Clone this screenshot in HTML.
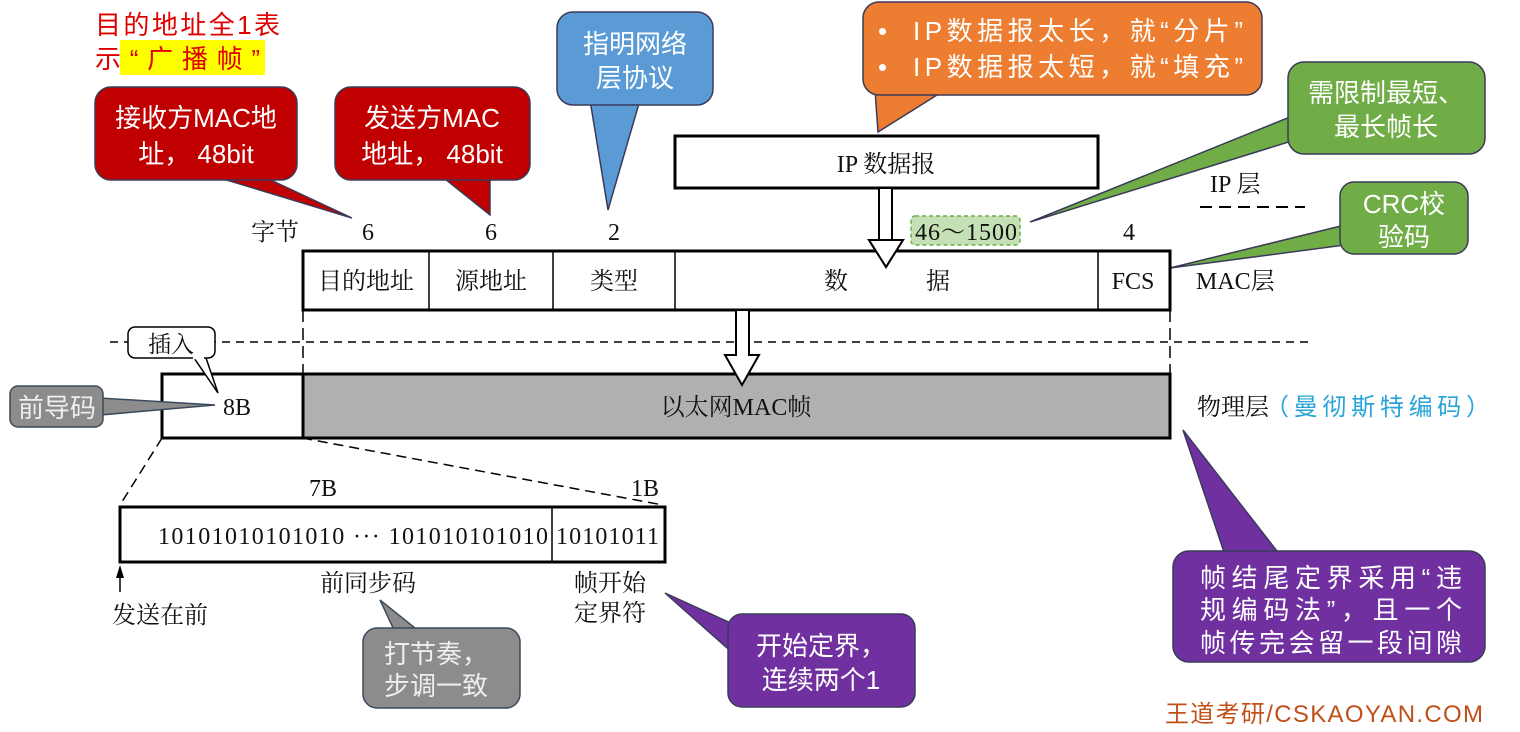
<!DOCTYPE html>
<html><head><meta charset="utf-8"><style>
html,body{margin:0;padding:0;background:#fff;width:1520px;height:732px;overflow:hidden}
svg{display:block}
text{font-family:"Liberation Sans","Noto Sans CJK SC",sans-serif}
.s{font-family:"Liberation Serif","Noto Serif CJK SC",serif;fill:#111}
.w{fill:#fff;font-size:26px}
</style></head><body>
<svg width="1520" height="732" viewBox="0 0 1520 732" xmlns="http://www.w3.org/2000/svg">
<rect x="120" y="40" width="145" height="35" fill="#ffff00"/>
<text x="95" y="34" font-size="26" fill="#e00000" textLength="185">目的地址全1表</text>
<text x="95" y="68" font-size="26" fill="#e00000" textLength="165">示“广播帧”</text>

<polygon points="210,175 260,175 352,218" fill="#c00000" stroke="#3a3a5a" stroke-width="1.5"/>
<rect x="95" y="87" width="202" height="93" rx="16" fill="#c00000" stroke="#3a3a5a" stroke-width="1.5"/>
<text class="w" x="196" y="127" text-anchor="middle">接收方MAC地</text>
<text class="w" x="196" y="163" text-anchor="middle">址， 48bit</text>
<polygon points="440,175 490,175 490,215" fill="#c00000" stroke="#3a3a5a" stroke-width="1.5"/>
<rect x="335" y="87" width="195" height="93" rx="16" fill="#c00000" stroke="#3a3a5a" stroke-width="1.5"/>
<text class="w" x="432" y="127" text-anchor="middle">发送方MAC</text>
<text class="w" x="432" y="163" text-anchor="middle">地址， 48bit</text>
<polygon points="590,100 640,100 608,210" fill="#5b9bd5" stroke="#3a3a5a" stroke-width="1.5"/>
<rect x="557" y="12" width="156" height="93" rx="16" fill="#5b9bd5" stroke="#3a3a5a" stroke-width="1.5"/>
<text class="w" x="635" y="53" text-anchor="middle">指明网络</text>
<text class="w" x="635" y="87" text-anchor="middle">层协议</text>
<polygon points="875,90 945,90 878,132" fill="#ed7d31" stroke="#3a3a5a" stroke-width="1.5"/>
<rect x="863" y="2" width="399" height="93" rx="16" fill="#ed7d31" stroke="#3a3a5a" stroke-width="1.5"/>
<text class="w" x="878" y="40">•</text>
<text class="w" x="913" y="40" textLength="330">IP数据报太长，就“分片”</text>
<text class="w" x="878" y="76">•</text>
<text class="w" x="913" y="76" textLength="330">IP数据报太短，就“填充”</text>
<polygon points="1295,115 1295,140 1030,222" fill="#70ad47" stroke="#3a3a5a" stroke-width="1.5"/>
<rect x="1288" y="62" width="197" height="92" rx="16" fill="#70ad47" stroke="#3a3a5a" stroke-width="1.5"/>
<text class="w" x="1386" y="102" text-anchor="middle">需限制最短、</text>
<text class="w" x="1386" y="136" text-anchor="middle">最长帧长</text>
<polygon points="1345,225 1345,245 1170,268" fill="#70ad47" stroke="#3a3a5a" stroke-width="1.5"/>
<rect x="1340" y="182" width="128" height="72" rx="14" fill="#70ad47" stroke="#3a3a5a" stroke-width="1.5"/>
<text class="w" x="1404" y="213" text-anchor="middle">CRC校</text>
<text class="w" x="1404" y="246" text-anchor="middle">验码</text>

<rect x="675" y="136" width="423" height="52" fill="#fff" stroke="#000" stroke-width="3"/>
<text class="s" x="886" y="172" font-size="24" text-anchor="middle">IP 数据报</text>
<text class="s" x="1210" y="192" font-size="24">IP 层</text>
<line x1="1200" y1="207" x2="1305" y2="207" stroke="#000" stroke-width="2" stroke-dasharray="12,7"/>

<polygon points="879,188 892,188 892,240 903,240 886,267 869,240 879,240" fill="#fff" stroke="#000" stroke-width="2"/>

<rect x="911" y="216" width="109" height="29" rx="4" fill="#c5e0b4" stroke="#70ad47" stroke-width="1.5" stroke-dasharray="4,3"/>
<text class="s" x="915" y="240" font-size="24" fill="#333" textLength="102">46～1500</text>

<text class="s" x="275" y="240" font-size="24" text-anchor="middle">字节</text>
<text class="s" x="368" y="240" font-size="24" text-anchor="middle">6</text>
<text class="s" x="491" y="240" font-size="24" text-anchor="middle">6</text>
<text class="s" x="614" y="240" font-size="24" text-anchor="middle">2</text>
<text class="s" x="1129" y="240" font-size="24" text-anchor="middle">4</text>

<rect x="303" y="251" width="867" height="59" fill="none" stroke="#000" stroke-width="3"/>
<line x1="429" y1="251" x2="429" y2="310" stroke="#000" stroke-width="1.5"/>
<line x1="553" y1="251" x2="553" y2="310" stroke="#000" stroke-width="1.5"/>
<line x1="675" y1="251" x2="675" y2="310" stroke="#000" stroke-width="1.5"/>
<line x1="1098" y1="251" x2="1098" y2="310" stroke="#000" stroke-width="1.5"/>
<text class="s" x="366" y="289" font-size="24" text-anchor="middle">目的地址</text>
<text class="s" x="491" y="289" font-size="24" text-anchor="middle">源地址</text>
<text class="s" x="614" y="289" font-size="24" text-anchor="middle">类型</text>
<text class="s" x="836" y="289" font-size="24" text-anchor="middle">数</text>
<text class="s" x="938" y="289" font-size="24" text-anchor="middle">据</text>
<text class="s" x="1133" y="289" font-size="24" text-anchor="middle">FCS</text>
<text class="s" x="1196" y="289" font-size="24">MAC层</text>
<polygon points="869,240 903,240 886,267" fill="#fff" stroke="#000" stroke-width="2"/>

<line x1="303" y1="310" x2="303" y2="373" stroke="#000" stroke-width="1.5" stroke-dasharray="12,6"/>
<line x1="1170" y1="310" x2="1170" y2="373" stroke="#000" stroke-width="1.5" stroke-dasharray="12,6"/>
<line x1="110" y1="342" x2="1310" y2="342" stroke="#000" stroke-width="1.5" stroke-dasharray="8,6"/>

<rect x="162" y="374" width="1008" height="64" fill="#fff" stroke="#000" stroke-width="3"/>
<rect x="303" y="374" width="867" height="64" fill="#b0b0b0" stroke="#000" stroke-width="3"/>
<text class="s" x="237" y="415" font-size="24" text-anchor="middle">8B</text>
<text class="s" x="736" y="415" font-size="24" text-anchor="middle">以太网MAC帧</text>
<text class="s" x="1197" y="415" font-size="24">物理层</text>
<text x="1265" y="415" font-size="24" fill="#29a3d8" textLength="225">（曼彻斯特编码）</text>

<polygon points="736,310 749,310 749,355 759,355 742,385 725,355 736,355" fill="#fff" stroke="#000" stroke-width="2"/>

<polygon points="192,355 205,355 218,393" fill="#fff" stroke="#000" stroke-width="1.5"/>
<rect x="128" y="327" width="87" height="31" rx="7" fill="#fff" stroke="#000" stroke-width="1.5"/>
<line x1="193" y1="358" x2="204" y2="358" stroke="#fff" stroke-width="2.5"/>
<text class="s" x="171" y="352" font-size="23" text-anchor="middle">插入</text>

<polygon points="100,398 100,415 215,405" fill="#8c8c8c" stroke="#3a4a5a" stroke-width="1.5"/>
<rect x="10" y="386" width="93" height="41" rx="8" fill="#8c8c8c" stroke="#3a4a5a" stroke-width="1.5"/>
<text x="57" y="417" font-size="26" fill="#eee" text-anchor="middle">前导码</text>

<line x1="162" y1="438" x2="120" y2="505" stroke="#000" stroke-width="1.5" stroke-dasharray="10,6"/>
<line x1="302" y1="438" x2="663" y2="505" stroke="#000" stroke-width="1.5" stroke-dasharray="10,6"/>
<text class="s" x="323" y="496" font-size="24" text-anchor="middle">7B</text>
<text class="s" x="645" y="496" font-size="24" text-anchor="middle">1B</text>

<rect x="120" y="507" width="545" height="55" fill="#fff" stroke="#000" stroke-width="3"/>
<line x1="552" y1="507" x2="552" y2="562" stroke="#000" stroke-width="1.5"/>
<text class="s" x="158" y="544" font-size="24" textLength="390">10101010101010 ··· 101010101010</text>
<text class="s" x="556" y="544" font-size="24" textLength="103">10101011</text>

<line x1="120" y1="592" x2="120" y2="570" stroke="#000" stroke-width="1.5"/>
<polygon points="116,578 120,565 124,578" fill="#000"/>
<text class="s" x="160" y="623" font-size="24" text-anchor="middle">发送在前</text>
<text class="s" x="368" y="591" font-size="24" text-anchor="middle">前同步码</text>
<text class="s" x="610" y="591" font-size="24" text-anchor="middle">帧开始</text>
<text class="s" x="610" y="621" font-size="24" text-anchor="middle">定界符</text>

<polygon points="380,600 395,632 420,632" fill="#8c8c8c" stroke="#3a4a5a" stroke-width="1.5"/>
<rect x="363" y="628" width="157" height="80" rx="14" fill="#8c8c8c" stroke="#3a4a5a" stroke-width="1.5"/>
<text x="384" y="663" font-size="26" fill="#eee">打节奏，</text>
<text x="384" y="695" font-size="26" fill="#eee">步调一致</text>

<polygon points="665,593 735,625 735,655" fill="#7030a0" stroke="#3a3a5a" stroke-width="1.5"/>
<rect x="728" y="614" width="187" height="93" rx="14" fill="#7030a0" stroke="#3a3a5a" stroke-width="1.5"/>
<text class="w" x="821" y="655" text-anchor="middle">开始定界，</text>
<text class="w" x="821" y="689" text-anchor="middle">连续两个1</text>

<polygon points="1183,430 1225,555 1280,555" fill="#7030a0" stroke="#3a3a5a" stroke-width="1.5"/>
<rect x="1173" y="551" width="312" height="111" rx="16" fill="#7030a0" stroke="#3a3a5a" stroke-width="1.5"/>
<text class="w" x="1200" y="587" textLength="262">帧结尾定界采用“违</text>
<text class="w" x="1200" y="619" textLength="262">规编码法”，且一个</text>
<text class="w" x="1200" y="652" textLength="262">帧传完会留一段间隙</text>

<text x="1165" y="722" font-size="24" fill="#c0501a" textLength="318">王道考研/CSKAOYAN.COM</text>
</svg>
</body></html>
